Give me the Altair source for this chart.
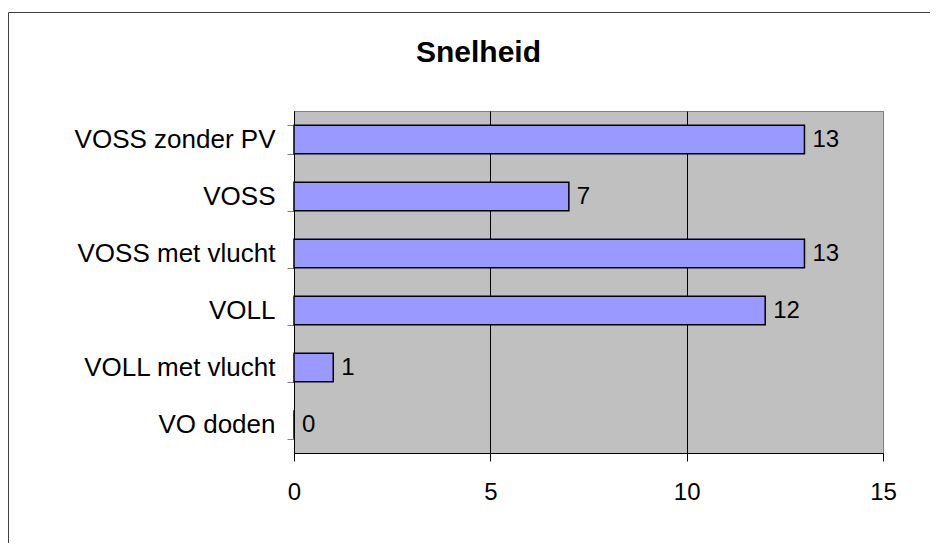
import altair as alt
import pandas as pd

categories = ["VOSS zonder PV", "VOSS ", "VOSS met vlucht", "VOLL", "VOLL met vlucht", "VO doden"]
values = [13, 7, 13, 12, 1, 0]
x_ticks = [0, 5, 10, 15]
title_text = "Snelheid"

df = pd.DataFrame({"categorie": categories, "aantal": values})

FONT = "Liberation Sans"

y_enc = alt.Y(
    "categorie:N", sort=categories, title=None,
    scale=alt.Scale(paddingInner=0.5, paddingOuter=0.25),
    axis=alt.Axis(tickBand="extent", labelFont=FONT, labelFontSize=26, labelColor="black",
                  labelAlign="right", labelBaseline="middle", labelPadding=12, tickSize=7,
                  tickColor="#808080", domainColor="black", labelLimit=0, grid=False),
)
x_enc = alt.X(
    "aantal:Q", title=None, scale=alt.Scale(domain=[0, 15], nice=False),
    axis=alt.Axis(values=x_ticks, format="d", labelFont=FONT, labelFontSize=24, labelColor="black",
                  labelPadding=19, tickSize=8, tickColor="black", domainColor="black",
                  grid=True, gridOpacity=1, labelFlush=False,
                  gridColor={"condition": {"test": "datum.value === 15", "value": "#808080"}, "value": "black"}),
)

frame = alt.Chart(pd.DataFrame({"k": [0]})).mark_rect(
    fillOpacity=0, stroke="#404040", strokeWidth=1
).encode(
    x=alt.value(-285.5), x2=alt.value(1000), y=alt.value(-98.5), y2=alt.value(1000)
)

bars = alt.Chart(df).mark_bar(fill="#9999FF", stroke="black", strokeWidth=1.5).encode(
    x=x_enc, y=y_enc
)
labels = alt.Chart(df).mark_text(
    align="left", baseline="middle", dx=8, font=FONT, fontSize=24, color="black"
).encode(
    x=alt.X("aantal:Q"), y=alt.Y("categorie:N", sort=categories), text="aantal:Q"
)

chart = alt.layer(frame, bars, labels).properties(
    width=589, height=342,
    autosize=alt.AutoSizeParams(type="none"),
    padding={"left": 286, "top": 103, "right": 47, "bottom": 90},
    title=alt.TitleParams(text=title_text, font=FONT, fontSize=30, fontWeight="bold", color="black",
                          anchor="middle", dx=-110, offset=-56, frame="group"),
).configure(background="white").configure_view(fill="#C0C0C0", stroke="#808080")

chart.save("out.html", embed_options={"renderer": "svg", "actions": False})
